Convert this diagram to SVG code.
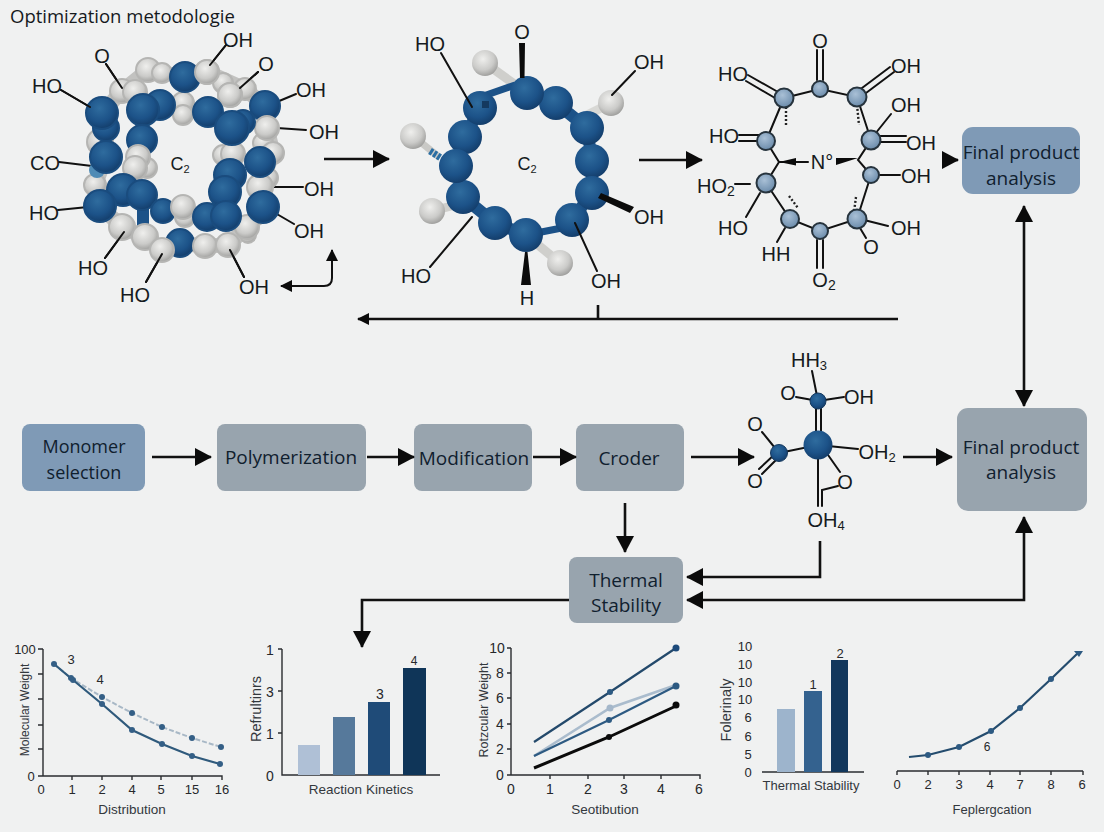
<svg xmlns="http://www.w3.org/2000/svg" width="1104" height="832" viewBox="0 0 1104 832">
<style>
text{font-family:"Liberation Sans",Arial,sans-serif;fill:#151a20}
.c{font-size:20px;text-anchor:middle}
.n{font-family:"Open Sans","Liberation Sans",sans-serif;font-size:19px;text-anchor:middle;fill:#10202e}
.t{font-size:13px;text-anchor:middle;fill:#26282b}
.at{font-size:13px;text-anchor:middle;fill:#33383d}
.b{fill:url(#blue)}
.g{fill:url(#gray)}
#molecule-1 .b{stroke:#1a4c7e;stroke-width:2}
#molecule-1 .g{stroke:#b5b5b3;stroke-width:2}
.r{fill:url(#lt);stroke:#26333d;stroke-width:2}
.l{fill:none;stroke:#111;stroke-width:2;stroke-linecap:round}
.f{fill:none;stroke:#111;stroke-width:2.6}
.ax{fill:none;stroke:#2a2d30;stroke-width:1.4}
.w{fill:#0b0b0b}
.bx{fill:#98a4ae}
.by{fill:#7f9ab6}
</style>
<defs>
<radialGradient id="blue" cx="42%" cy="35%" r="70%"><stop offset="0" stop-color="#2f6c9e"/><stop offset=".6" stop-color="#1c5288"/><stop offset="1" stop-color="#123a66"/></radialGradient>
<radialGradient id="gray" cx="42%" cy="35%" r="70%"><stop offset="0" stop-color="#efefed"/><stop offset=".6" stop-color="#cbcbc9"/><stop offset="1" stop-color="#989896"/></radialGradient>
<radialGradient id="lt" cx="42%" cy="35%" r="70%"><stop offset="0" stop-color="#a9c0d6"/><stop offset="1" stop-color="#6788a8"/></radialGradient>
<marker id="h" markerUnits="userSpaceOnUse" markerWidth="17" markerHeight="18" viewBox="0 0 17 18" refX="16" refY="9" orient="auto-start-reverse"><path d="M0 0L17 9L0 18Z" fill="#0b0b0b"/></marker>
<marker id="s" markerUnits="userSpaceOnUse" markerWidth="12" markerHeight="12" viewBox="0 0 12 12" refX="11" refY="6" orient="auto-start-reverse"><path d="M0 0L12 6L0 12Z" fill="#0b0b0b"/></marker>
</defs>
<rect width="1104" height="832" fill="#f0f1f1"/>
<text x="10" y="23" style="font-family:'Open Sans','Liberation Sans',sans-serif;font-size:18.5px;fill:#15191d">Optimization metodologie</text>

<g id="molecule-1">
<path class="l" d="M61 90L90 107M106 64L122 88M226 45L210 65M258 72L240 88M296 94L272 104M306 130L277 128M59 162L92 166M303 187L274 187M294 224L270 210M58 210L88 207M105 258L124 232M146 282L162 254M244 277L230 250"/>
<path fill="none" stroke="#c2c2c0" stroke-width="15" stroke-linejoin="round" d="M148 70L185 77L207 72L245 89L265 106L267 128L273 153L260 187L263 207L247 227L228 245L205 246L180 243L162 250L145 237L122 227L100 206L95 185L106 157L100 142L102 113L122 91Z"/>
<path fill="none" stroke="#1c5288" stroke-width="14" stroke-linejoin="round" d="M143 110L142 140M160 105L143 110M123 190L142 195M225 192L230 175M226 216L225 192M100 206L110 200"/>
<circle class="g" cx="148" cy="70" r="12"/><circle class="g" cx="162" cy="73" r="10"/><circle class="g" cx="207" cy="72" r="12"/><circle class="g" cx="223" cy="83" r="10"/><circle class="g" cx="245" cy="89" r="11"/><circle class="g" cx="122" cy="91" r="12"/><circle class="g" cx="135" cy="92" r="12"/><circle class="g" cx="230" cy="95" r="12"/><circle class="g" cx="183" cy="103" r="11"/><circle class="g" cx="183" cy="115" r="10"/>
<circle class="b" cx="185" cy="77" r="15"/><circle class="g" cx="207" cy="72" r="12"/><circle class="g" cx="230" cy="95" r="12"/>
<circle class="g" cx="263" cy="143" r="10"/><circle class="g" cx="273" cy="153" r="11"/><circle class="g" cx="223" cy="155" r="10"/><circle class="g" cx="233" cy="154" r="12"/><circle class="g" cx="100" cy="142" r="13"/><circle class="g" cx="147" cy="168" r="10"/><circle class="g" cx="95" cy="185" r="11"/><circle class="g" cx="268" cy="178" r="10"/><circle class="g" cx="260" cy="187" r="13"/><circle class="g" cx="257" cy="217" r="8"/><circle class="g" cx="248" cy="235" r="8"/><circle class="g" cx="247" cy="227" r="12"/>
<circle cx="97" cy="170" r="8" fill="#4f8bb5"/>
<circle class="b" cx="106" cy="128" r="13"/><circle class="b" cx="102" cy="113" r="16"/><circle class="b" cx="106" cy="157" r="16"/>
<circle class="b" cx="160" cy="105" r="15"/><circle class="b" cx="143" cy="110" r="16"/><circle class="b" cx="142" cy="140" r="15"/><circle class="b" cx="208" cy="112" r="15"/><circle class="b" cx="265" cy="106" r="15"/><circle class="g" cx="267" cy="128" r="12"/><circle class="b" cx="243" cy="122" r="12"/><circle class="b" cx="232" cy="128" r="17"/>
<circle class="g" cx="138" cy="157" r="12"/><circle class="g" cx="135" cy="168" r="12"/><circle class="b" cx="260" cy="162" r="15"/><circle class="b" cx="230" cy="175" r="16"/><circle class="b" cx="225" cy="192" r="16"/>
<rect x="137" y="205" width="12" height="24" fill="#1c5288"/><circle class="b" cx="123" cy="190" r="16"/><circle class="b" cx="142" cy="195" r="15"/>
<circle class="g" cx="122" cy="227" r="13"/><circle class="b" cx="100" cy="206" r="16"/><circle class="b" cx="263" cy="207" r="16"/><circle class="b" cx="163" cy="211" r="12"/><circle class="g" cx="185" cy="217" r="10"/><circle class="g" cx="183" cy="207" r="12"/>
<circle class="b" cx="207" cy="217" r="14"/><circle class="b" cx="226" cy="216" r="15"/><circle class="b" cx="180" cy="243" r="14"/><circle class="g" cx="145" cy="237" r="13"/><circle class="g" cx="162" cy="250" r="12"/><circle class="g" cx="205" cy="246" r="12"/><circle class="g" cx="228" cy="245" r="12"/>
<path class="l" d="M61 90L90 107M106 64L122 88M226 45L210 65M258 72L240 88M105 258L124 232M146 282L162 254M244 277L230 250"/>
<text class="c" x="47" y="93">HO</text><text class="c" x="102" y="63">O</text><text class="c" x="238" y="47">OH</text><text class="c" x="266" y="71">O</text><text class="c" x="311" y="97">OH</text><text class="c" x="324" y="139">OH</text><text class="c" x="319" y="196">OH</text><text class="c" x="309" y="238">OH</text><text class="c" x="254" y="294">OH</text><text class="c" x="135" y="302">HO</text><text class="c" x="93" y="275">HO</text><text class="c" x="44" y="220">HO</text><text class="c" x="45" y="170">CO</text>
<text class="c" x="180" y="170" style="font-size:18px">C<tspan font-size="11" dy="3">2</tspan></text>
</g>

<g id="molecule-2">
<path fill="none" stroke="#1c5288" stroke-width="12" stroke-linejoin="round" d="M527 93L556 103L587 128L592 161L592 193L572 220M526 235L495 223L463 197L456 166L465 137L480 108"/>
<path d="M485 63L527 93" stroke="#cfcfcc" stroke-width="9"/><path d="M611 103L587 115" stroke="#d8d8d5" stroke-width="9"/><path d="M413 136L439 157" stroke="#c9c9c6" stroke-width="7"/><path d="M432 211L463 203" stroke="#cfcfcc" stroke-width="9"/><path d="M560 263L526 235" stroke="#cfcfcc" stroke-width="9"/>
<path d="M430 151L441 158" stroke="#2a6ea3" stroke-width="7" stroke-dasharray="3 1.500"/>
<path d="M472 100L515 85M526 235L572 226" stroke="#1c5288" stroke-width="7"/>
<circle class="g" cx="485" cy="63" r="13"/><circle class="g" cx="611" cy="103" r="13"/><circle class="g" cx="413" cy="136" r="13"/><circle class="g" cx="432" cy="211" r="13"/><circle class="g" cx="560" cy="263" r="13"/>
<circle class="b" cx="592" cy="161" r="17"/><circle class="b" cx="587" cy="128" r="17"/><circle class="b" cx="556" cy="103" r="17"/><circle class="b" cx="527" cy="93" r="17"/><circle class="b" cx="592" cy="193" r="17"/><circle class="b" cx="572" cy="220" r="17"/><circle class="b" cx="495" cy="223" r="17"/><circle class="b" cx="526" cy="235" r="17"/><circle class="b" cx="463" cy="197" r="17"/><circle class="b" cx="465" cy="137" r="17"/><circle class="b" cx="456" cy="166" r="17"/><circle class="b" cx="480" cy="108" r="17"/>
<rect x="482" y="101" width="7" height="7" fill="#14395f"/>
<path class="w" d="M519 43H525L524.500 78H520ZM601 193L634 207L630 213L598 198ZM525 252H527.500L531 285H521Z"/>
<path class="l" d="M441 53L472 107M635 71L612 95M430 267L472 217M597 271L575 223"/>
<text class="c" x="430" y="51">HO</text><text class="c" x="522" y="39">O</text><text class="c" x="649" y="69">OH</text><text class="c" x="649" y="224">OH</text><text class="c" x="606" y="288">OH</text><text class="c" x="527" y="305">H</text><text class="c" x="416" y="283">HO</text>
<text class="c" x="527" y="170" style="font-size:18px">C<tspan font-size="11" dy="3">2</tspan></text>
</g>

<g id="molecule-3">
<path class="l" d="M784 98L820 89L857 97L871 140L858 160L871 175L857 219L820 231L790 219L766 183L779 162L766 141L784 98"/>
<path class="l" d="M817 50V80M823 50V80M748 75L778 92M746 81L775 98M890 67L862 88M894 72L866 93M875 134L891 114M880 136H906M880 142H906M760 135H739M760 141H739M880 175H900M750 184H735M760 193L746 217M864 220L888 226M860 228L866 238M785 228L777 242M817 240V268M823 240V268"/>
<path d="M786 107V126M857 105L859 125M856 197L854 212M789 196L798 208" fill="none" stroke="#222" stroke-width="2.400" stroke-dasharray="2 2"/>
<path class="l" d="M779 162H808"/><path class="w" d="M779 162L796 158V165.500Z M836 158H858L836 165Z"/>
<circle class="r" cx="784" cy="98" r="9.500"/><circle class="r" cx="820" cy="89" r="8"/><circle class="r" cx="857" cy="97" r="9.500"/><circle class="r" cx="871" cy="140" r="9.500"/><circle class="r" cx="871" cy="175" r="8"/><circle class="r" cx="857" cy="219" r="9.500"/><circle class="r" cx="820" cy="231" r="8"/><circle class="r" cx="790" cy="219" r="9"/><circle class="r" cx="766" cy="183" r="9.500"/><circle class="r" cx="766" cy="141" r="9"/>
<text class="c" x="820" y="48">O</text><text class="c" x="733" y="81">HO</text><text class="c" x="906" y="73">OH</text><text class="c" x="906" y="112">OH</text><text class="c" x="921" y="150">OH</text><text class="c" x="724" y="143">HO</text><text class="c" x="822" y="169">N°</text><text class="c" x="916" y="183">OH</text><text class="c" x="716" y="193">HO<tspan font-size="14" dy="3">2</tspan></text><text class="c" x="733" y="235">HO</text><text class="c" x="906" y="235">OH</text><text class="c" x="871" y="254">O</text><text class="c" x="776" y="261">HH</text><text class="c" x="824" y="287">O<tspan font-size="14" dy="3">2</tspan></text>
</g>

<g id="molecule-4">
<path class="l" d="M812 371L818 401M796 397L818 401L844 397M816 405V432M821 405V432M762 432L779 453M759 469L775 454M762 474L778 458M779 453L818 445L858 449M818 445V506M821 445L840 472M822 506V490L838 486"/>
<circle class="b" cx="818" cy="401" r="8" stroke="#163a5f"/><circle class="b" cx="779" cy="453" r="8.500" stroke="#163a5f"/><circle class="b" cx="818" cy="445" r="14.500"/>
<text class="c" x="809" y="367">HH<tspan font-size="13" dy="3">3</tspan></text><text class="c" x="788" y="400">O</text><text class="c" x="859" y="404">OH</text><text class="c" x="755" y="431">O</text><text class="c" x="755" y="488">O</text><text class="c" x="877" y="459">OH<tspan font-size="13" dy="3">2</tspan></text><text class="c" x="845" y="489">O</text><text class="c" x="826" y="527">OH<tspan font-size="13" dy="3">4</tspan></text>
</g>

<g id="node-top-final"><rect class="by" x="962" y="127" width="118" height="67" rx="11"/><text class="n" x="1021" y="159">Final product</text><text class="n" x="1021" y="185">analysis</text></g>
<g id="node-monomer"><rect class="by" x="22" y="424" width="123" height="67" rx="8"/><text class="n" x="84" y="453" style="font-size:18px">Monomer</text><text class="n" x="84" y="479" style="font-size:18px">selection</text></g>
<g id="node-polymerization"><rect class="bx" x="217" y="424" width="149" height="67" rx="8"/><text class="n" x="291" y="464">Polymerization</text></g>
<g id="node-modification"><rect class="bx" x="414" y="424" width="118" height="67" rx="8"/><text class="n" x="474" y="465">Modification</text></g>
<g id="node-croder"><rect class="bx" x="576" y="424" width="108" height="67" rx="8"/><text class="n" x="629" y="465">Croder</text></g>
<g id="node-thermal"><rect class="bx" x="569" y="557" width="114" height="66" rx="8"/><text class="n" x="626" y="587">Thermal</text><text class="n" x="626" y="612">Stability</text></g>
<g id="node-final"><rect class="bx" x="957" y="408" width="130" height="103" rx="11"/><text class="n" x="1021" y="454">Final product</text><text class="n" x="1021" y="479">analysis</text></g>

<g id="connectors">
<path class="f" marker-end="url(#h)" d="M324 159H389"/>
<path class="f" marker-end="url(#h)" d="M639 160H702"/>
<path class="f" marker-end="url(#h)" d="M942 160H958"/>
<path class="f" marker-end="url(#s)" d="M898 319H358"/><path class="f" d="M598 305V319"/>
<path class="f" marker-start="url(#s)" marker-end="url(#s)" d="M332 250V278Q332 286 324 286H281" style="stroke-width:2"/>
<path class="f" marker-end="url(#h)" marker-start="url(#h)" d="M1024 206V406"/>
<path class="f" marker-end="url(#h)" d="M152 457H211"/>
<path class="f" marker-end="url(#h)" d="M367 457H414"/>
<path class="f" marker-end="url(#h)" d="M533 457H576"/>
<path class="f" marker-end="url(#h)" d="M691 457H754"/>
<path class="f" marker-end="url(#h)" d="M903 457H952"/>
<path class="f" marker-end="url(#h)" d="M625 503V552"/>
<path class="f" marker-end="url(#h)" d="M820 541V577H687"/>
<path class="f" marker-start="url(#h)" marker-end="url(#h)" d="M1024 517V600H687"/>
<path class="f" marker-end="url(#h)" d="M569 600H362V647"/>
</g>

<g id="chart-molecular-weight">
<path class="ax" d="M43 649V776H222V780M38 649H43M38 674H43M38 699H43M38 725H43M38 749H43M38 776H43M72 776V780M102 776V780M132 776V780M161 776V780M192 776V780"/>
<path fill="none" stroke="#a8b8c6" stroke-width="2" stroke-dasharray="5 2" d="M54 664L71 678L102 697L132 713L162 727L192 738L221 747"/>
<path fill="none" stroke="#2f5a7c" stroke-width="2.200" d="M54 664L73 680L102 704L132 730L162 744L192 756L220 764"/>
<g fill="#345f86"><circle cx="54" cy="664" r="3"/><circle cx="71" cy="678" r="3"/><circle cx="102" cy="697" r="3"/><circle cx="132" cy="713" r="3"/><circle cx="162" cy="727" r="3"/><circle cx="192" cy="738" r="3"/><circle cx="221" cy="747" r="3"/><circle cx="73" cy="680" r="3"/><circle cx="102" cy="704" r="3"/><circle cx="132" cy="730" r="3"/><circle cx="162" cy="744" r="3"/><circle cx="192" cy="756" r="3"/><circle cx="220" cy="764" r="3"/></g>
<text class="t" x="25" y="654">100</text><text class="t" x="31" y="781">0</text><text class="t" x="41" y="794">0</text><text class="t" x="72" y="794">1</text><text class="t" x="102" y="794">2</text><text class="t" x="132" y="794">4</text><text class="t" x="161" y="794">5</text><text class="t" x="192" y="794">15</text><text class="t" x="222" y="794">16</text>
<text class="t" x="71" y="664">3</text><text class="t" x="100" y="684">4</text>
<text class="at" x="132" y="814" style="font-size:13.500px">Distribution</text>
<text class="at" transform="translate(29 710) rotate(-90)" style="font-size:12px">Molecular Weight</text>
</g>

<g id="chart-reaction-kinetics">
<path class="ax" d="M282 649V775H440M278 649H282M278 691H282M278 733H282"/>
<rect x="298" y="745" width="22" height="30" fill="#afc0d6"/><rect x="333" y="717" width="22" height="58" fill="#56799b"/><rect x="368" y="702" width="22" height="73" fill="#1f4b78"/><rect x="403" y="668" width="23" height="107" fill="#0f3558"/>
<text class="t" x="270" y="655" style="font-size:14px">1</text><text class="t" x="270" y="697" style="font-size:14px">3</text><text class="t" x="270" y="739" style="font-size:14px">1</text><text class="t" x="270" y="781" style="font-size:14px">0</text>
<text class="t" x="380" y="699" style="font-size:14px">3</text><text class="t" x="414" y="665" style="font-size:12px">4</text>
<text class="at" x="361" y="794" style="font-size:13.500px">Reaction Kinetics</text>
<text class="at" transform="translate(261 709) rotate(-90)" style="font-size:14.500px">Refrultinrs</text>
</g>

<g id="chart-rotzcular-weight">
<path class="ax" d="M511 648V775H700V779M507 648H511M507 673H511M507 698H511M507 724H511M507 749H511M507 775H511M550 775V779M588 775V779M624 775V779M661 775V779"/>
<g fill="none" stroke-width="2.200">
<path stroke="#23496b" d="M534 742L610 692L676 648"/>
<path stroke="#aabccd" stroke-width="2.600" d="M534 756L610 708L676 685"/>
<path stroke="#2d5a82" d="M534 756L609 720L676 686"/>
<path stroke="#0b0b0b" stroke-width="3" d="M534 768L609 737L676 706"/>
</g>
<circle cx="676" cy="648" r="3.500" fill="#1c4a7a"/><circle cx="610" cy="692" r="3" fill="#2d5a82"/><circle cx="610" cy="708" r="3.500" fill="#a4b7ca"/><circle cx="676" cy="686" r="3.500" fill="#2d5a82"/><circle cx="609" cy="720" r="3" fill="#2d5a82"/><circle cx="609" cy="737" r="3" fill="#0b0b0b"/><circle cx="676" cy="705" r="3.500" fill="#0b0b0b"/>
<text class="t" x="497" y="653" style="font-size:14px">10</text><text class="t" x="500" y="678" style="font-size:14px">8</text><text class="t" x="500" y="703" style="font-size:14px">6</text><text class="t" x="500" y="729" style="font-size:14px">4</text><text class="t" x="500" y="754" style="font-size:14px">2</text><text class="t" x="500" y="780" style="font-size:14px">0</text>
<text class="t" x="511" y="794" style="font-size:14px">0</text><text class="t" x="550" y="794" style="font-size:14px">1</text><text class="t" x="588" y="794" style="font-size:14px">2</text><text class="t" x="624" y="794" style="font-size:14px">3</text><text class="t" x="661" y="794" style="font-size:14px">4</text><text class="t" x="699" y="794" style="font-size:14px">6</text>
<text class="at" x="605" y="814" style="font-size:13.500px">Seotibution</text>
<text class="at" transform="translate(488 710) rotate(-90)" style="font-size:12.500px">Rotzcular Weight</text>
</g>

<g id="chart-thermal-stability">
<path class="ax" d="M762 772H864"/>
<rect x="777" y="709" width="18" height="63" fill="#9db4cc"/><rect x="804" y="691" width="18" height="81" fill="#34628f"/><rect x="831" y="660" width="17" height="112" fill="#12375c"/>
<g><text class="t" x="745" y="651">10</text><text class="t" x="745" y="669">10</text><text class="t" x="745" y="687">10</text><text class="t" x="745" y="704">10</text><text class="t" x="748" y="722">6</text><text class="t" x="748" y="741">6</text><text class="t" x="748" y="759">5</text><text class="t" x="748" y="777">0</text></g>
<text class="t" x="840" y="658">2</text><text class="t" x="813" y="689">1</text>
<text class="at" x="811" y="790" style="font-size:13px">Thermal Stability</text>
<text class="at" transform="translate(731 710) rotate(-90)" style="font-size:14.500px">Folerinaly</text>
</g>

<g id="chart-feplergcation">
<path class="ax" d="M897 771H1083M897 771V775M928 771V775M959 771V775M990 771V775M1020 771V775M1051 771V775M1083 771V775"/>
<path fill="none" stroke="#244c6e" stroke-width="2.200" d="M909 757L928 755L959 747L991 731L1020 708L1051 679L1079 652"/>
<g fill="#2d5a82"><circle cx="928" cy="755" r="3"/><circle cx="959" cy="747" r="3"/><circle cx="991" cy="731" r="3"/><circle cx="1020" cy="708" r="3"/><circle cx="1051" cy="679" r="3"/><path d="M1074 651H1083L1079 657Z"/></g>
<text class="t" x="897" y="789">0</text><text class="t" x="928" y="789">2</text><text class="t" x="959" y="789">3</text><text class="t" x="990" y="789">4</text><text class="t" x="1020" y="789">7</text><text class="t" x="1051" y="789">8</text><text class="t" x="1082" y="789">6</text>
<text class="t" x="987" y="751" style="font-size:12px">6</text>
<text class="at" x="992" y="814" style="font-size:13px">Feplergcation</text>
</g>
</svg>
